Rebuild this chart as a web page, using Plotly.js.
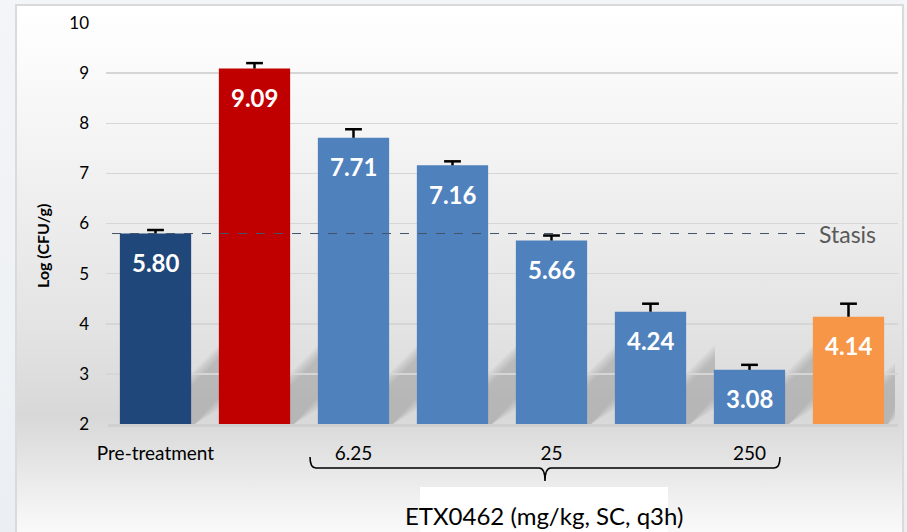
<!DOCTYPE html>
<html>
<head>
<meta charset="utf-8">
<script src="https://cdn.plot.ly/plotly-3.0.1.min.js"></script>
<style>
  html, body { margin:0; padding:0; width:907px; height:532px; overflow:hidden;
    background: linear-gradient(to bottom, #F3F5F8 0%, #EBEFF3 100%); }
  #frame { position:absolute; left:15px; top:4px; width:885px; height:540px;
    border:2px solid #DADADA; border-bottom:none;
    background: linear-gradient(to bottom, #FFFFFF 0%, #FCFCFC 8%, #EFEFEF 35%, #E3E3E3 60%, #D8D8D8 76%, #E4E4E4 84%, #F3F3F3 93%, #FDFDFD 100%); }
  #chart { position:absolute; left:0; top:0; width:907px; height:532px; }
</style>
</head>
<body>
<div id="frame"></div>
<div id="chart"></div>
<script>
// ---- data ----
const categories = ["Pre-treatment", "Vehicle", "ETX0462 6.25", "ETX0462 dose 2", "ETX0462 25", "ETX0462 dose 4", "ETX0462 250", "Comparator"];
const tickLabels = ["Pre-treatment", "", "6.25", "", "25", "", "250", ""];
const values = [5.80, 9.09, 7.71, 7.16, 5.66, 4.24, 3.08, 4.14];
const errors = [0.07, 0.11, 0.17, 0.08, 0.10, 0.16, 0.10, 0.26];
const stasisValue = 5.80;
const barColors = ["#1F477A", "#C00000", "#4F81BD", "#4F81BD", "#4F81BD", "#4F81BD", "#4F81BD", "#F79646"];

// ---- geometry helpers (pixels -> paper) ----
const L = 106, R = 898, T = 23, B = 424;
const px = x => (x - L) / (R - L);
const py = y => (B - y) / (B - T);

const font = "Lato, 'Noto Sans', sans-serif";

const barTrace = {
  type: "bar",
  x: categories,
  y: values,
  marker: { color: barColors },
  hoverinfo: "none"
};

// upper-only error bars: stem from bar top to value+error, cap at the top
const stemX = [], stemY = [];
categories.forEach((c, i) => { stemX.push(c, c, null); stemY.push(values[i], values[i] + errors[i], null); });
const stemTrace = {
  type: "scatter", mode: "lines", x: stemX, y: stemY,
  line: { color: "#000000", width: 2.5 }, hoverinfo: "none", connectgaps: false
};
const capTrace = {
  type: "scatter", mode: "markers", x: categories, y: values.map((v, i) => v + errors[i]),
  marker: { symbol: "line-ew", size: 12, color: "#000000", line: { color: "#000000", width: 2.5 } },
  hoverinfo: "none"
};

const annotations = values.map((v, i) => ({
  x: categories[i], y: v, xref: "x", yref: "y", text: v.toFixed(2),
  xanchor: "center", yanchor: "middle",
  showarrow: false, yshift: -29,
  font: { family: font, size: 24, color: "#FFFFFF", weight: "bold" }
}));

annotations.push({
  x: px(847), y: stasisValue, xref: "paper", yref: "y", text: "Stasis",
  xanchor: "center", yanchor: "middle",
  showarrow: false, font: { family: font, size: 23, color: "#595959" }
});
annotations.push({
  x: px(544), y: py(515), xref: "paper", yref: "paper", text: "ETX0462 (mg/kg, SC, q3h)",
  xanchor: "center", yanchor: "middle",
  showarrow: false, font: { family: font, size: 24, color: "#000000" }
});
annotations.push({
  x: px(42), y: py(246), xref: "paper", yref: "paper", text: "Log (CFU/g)", textangle: -90,
  xanchor: "center", yanchor: "middle",
  showarrow: false, font: { family: font, size: 16, color: "#000000", weight: "bold" }
});

function pt(x, y) { return px(x).toFixed(5) + "," + py(y).toFixed(5); }
const bracket = "M" + pt(310, 457) + " Q" + pt(310, 468) + " " + pt(316, 468) +
  " L" + pt(539, 468) + " Q" + pt(545, 468) + " " + pt(545, 481) +
  " Q" + pt(545, 468) + " " + pt(551, 468) + " L" + pt(774, 468) +
  " Q" + pt(780, 468) + " " + pt(780, 457);

const shapes = [
  { type: "rect", xref: "paper", yref: "paper", x0: px(420), x1: px(668), y0: py(487), y1: py(545),
    fillcolor: "#FFFFFF", line: { width: 0 }, layer: "below" },
  { type: "rect", xref: "paper", yref: "paper", x0: px(108), x1: px(898), y0: py(427), y1: py(424),
    fillcolor: "#C8C8C8", opacity: 0.6, line: { width: 0 }, layer: "below" }
];

// decorative soft cast shadows to the right of each bar base (pixel geometry)
for (let i = 0; i < 8; i++) {
  const xr = L + 99 * i + 49.5 + 35.5;
  const w = i === 7 ? 11 : 29;
  for (let k = 0; k < 5; k++) {
    const e = k * 3;
    const path = "M" + pt(xr, 424) + " L" + pt(xr, 386 - e) + " L" + pt(xr + w, 386 - e - w * 1.0) +
      " L" + pt(xr + w, 414 + e - w * 0.6) + " L" + pt(xr + 4, 424) + " Z";
    shapes.push({ type: "path", xref: "paper", yref: "paper", path: path,
      fillcolor: "#8C8C8C", opacity: 0.1, line: { width: 0 }, layer: "below" });
  }
}

shapes.push({ type: "path", xref: "paper", yref: "paper", path: bracket,
  line: { color: "#000000", width: 1.6 } });
shapes.push({ type: "line", xref: "paper", yref: "y", x0: px(112), x1: px(807), y0: stasisValue, y1: stasisValue,
  line: { color: "#44546A", width: 1, dash: "dash" } });

const layout = {
  width: 907, height: 532,
  margin: { l: L, r: 907 - R, t: T, b: 532 - B, pad: 0 },
  paper_bgcolor: "rgba(0,0,0,0)",
  plot_bgcolor: "rgba(0,0,0,0)",
  showlegend: false,
  bargap: 0.28,
  font: { family: font, color: "#000000" },
  xaxis: {
    type: "category", categoryarray: categories, tickvals: categories, ticktext: tickLabels,
    showgrid: false, zeroline: false, showline: false, ticks: "",
    tickfont: { family: font, size: 19, color: "#000000" }, ticklabelstandoff: 16
  },
  yaxis: {
    range: [2, 10], dtick: 1, tick0: 2, showgrid: true, gridcolor: "#D6D6D6", gridwidth: 1.5,
    zeroline: false, showline: false, ticks: "", ticklabelstandoff: 16,
    tickfont: { family: font, size: 17, color: "#000000" }
  },
  annotations: annotations,
  shapes: shapes
};

Plotly.newPlot("chart", [barTrace, stemTrace, capTrace], layout, { displayModeBar: false, staticPlot: true });
</script>
</body>
</html>
